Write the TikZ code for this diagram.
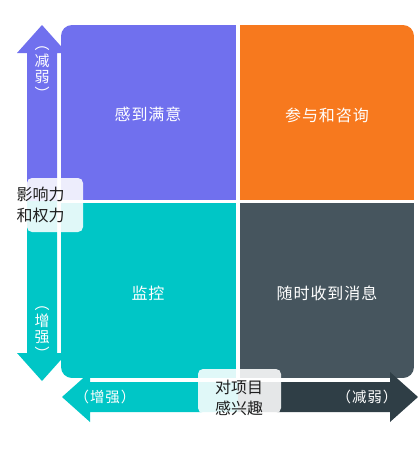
\documentclass[tikz,border=0pt]{standalone}
\usepackage{fontspec}
\setmainfont{Noto Sans CJK SC}
\newfontfamily\cjklabel[LetterSpace=6]{Noto Sans CJK SC}
\usetikzlibrary{positioning}
\definecolor{kotakUngu}{RGB}{112,112,238}
\definecolor{kotakOranye}{RGB}{247,121,30}
\definecolor{kotakToska}{RGB}{0,198,198}
\definecolor{kotakAbu}{RGB}{70,85,94}
\definecolor{panahAbu}{RGB}{47,62,70}

\begin{document}
\begin{tikzpicture}[x=1pt, y=-1pt,
  lbl/.style={font=\cjklabel\fontsize{16}{19}\selectfont, text=white},
  arah/.style={font=\cjklabel\fontsize{14.5}{16}\selectfont, text=white},
  arahV/.style={arah, align=center, font=\fontsize{15}{16.5}\selectfont},
  sumbu/.style={font=\fontsize{16}{21}\selectfont, text=black!88, align=left},
  tag/.style={fill=white, fill opacity=0.88, rounded corners=5pt},
]
  \useasboundingbox (0,0) rectangle (418,451);

  % empat kuadran
  \begin{scope}
    \clip[rounded corners=11pt] (61,25) rectangle (414,378);
    \fill[kotakUngu]   (61,25)   rectangle (236,200);
    \fill[kotakOranye] (240,25)  rectangle (414,200);
    \fill[kotakToska]  (61,203)  rectangle (236,378);
    \fill[kotakAbu]    (240,203) rectangle (414,378);
  \end{scope}

  % panah vertikal
  \fill[kotakUngu] (27,201) -- (27,53) -- (17,53) -- (42,25) -- (67,53) -- (57,53) -- (57,201) -- cycle;
  \fill[kotakToska] (27,201) -- (27,353) -- (17,353) -- (42,381) -- (67,353) -- (57,353) -- (57,201) -- cycle;

  % panah horizontal
  \fill[kotakToska] (238,382) -- (90,382) -- (90,372) -- (62,397) -- (90,422) -- (90,412) -- (238,412) -- cycle;
  \fill[panahAbu] (238,382) -- (390,382) -- (390,372) -- (418,397) -- (390,422) -- (390,412) -- (238,412) -- cycle;

  \fill[tag] (27,178) rectangle (83,232);
  \fill[tag] (198,369) rectangle (281,413);

  \node[lbl] (puas)   at (148,114) {感到满意};
  \node[lbl] (konsul) at (327,115) {参与和咨询};
  \node[lbl] (pantau) at (148,293) {监控};
  \node[lbl] (info)   at (327,293) {随时收到消息};

  \node[sumbu, anchor=west] (kuasa) at (13,205) {影响力\\和权力};
  \node[sumbu] (minat) at (239,398) {对项目\\感兴趣};

  \node[arahV] (lemahV) at (42,73)  {︵\\减\\弱\\︶};
  \node[arahV] (kuatV)  at (42,333) {︵\\增\\强\\︶};
  \node[arah] (kuatH)  at (105,397) {（增强）};
  \node[arah] (lemahH) at (367,397) {（减弱）};
\end{tikzpicture}
\end{document}
